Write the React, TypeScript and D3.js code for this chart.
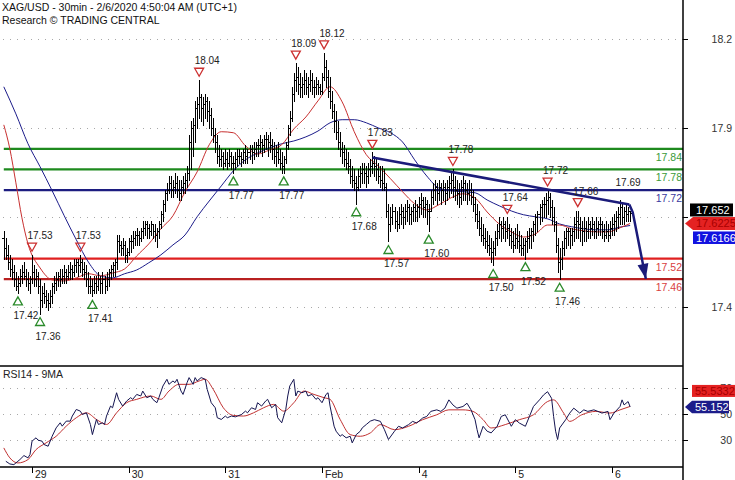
import * as d3 from 'd3';

const W = 735;
const H = 480;
const FONT = "'Liberation Sans', Arial, sans-serif";

// 30 min bars, [high, low, close]; open = previous close
const jan28 = [
  [17.6, 17.52, 17.55], [17.58, 17.52, 17.53], [17.56, 17.49, 17.51], [17.53, 17.47, 17.49],
  [17.52, 17.46, 17.48], [17.5, 17.44, 17.46], [17.48, 17.43, 17.44], [17.47, 17.42, 17.45],
  [17.49, 17.44, 17.47], [17.5, 17.45, 17.48], [17.51, 17.46, 17.47], [17.49, 17.44, 17.46],
  [17.48, 17.43, 17.45], [17.47, 17.42, 17.46],
];
const jan29 = [
  [17.53, 17.45, 17.48], [17.5, 17.44, 17.46], [17.49, 17.44, 17.47], [17.48, 17.42, 17.44],
  [17.46, 17.36, 17.4], [17.44, 17.38, 17.42], [17.45, 17.39, 17.41], [17.43, 17.38, 17.4],
  [17.42, 17.37, 17.39], [17.43, 17.38, 17.41], [17.45, 17.39, 17.44], [17.47, 17.42, 17.45],
  [17.48, 17.43, 17.46], [17.48, 17.44, 17.47], [17.49, 17.44, 17.46], [17.49, 17.45, 17.47],
  [17.5, 17.45, 17.48], [17.49, 17.45, 17.47], [17.5, 17.46, 17.48], [17.51, 17.46, 17.49],
  [17.5, 17.46, 17.48], [17.52, 17.47, 17.5], [17.52, 17.48, 17.51], [17.52, 17.47, 17.5],
  [17.53, 17.48, 17.51], [17.52, 17.47, 17.49], [17.51, 17.46, 17.48], [17.5, 17.44, 17.46],
  [17.48, 17.42, 17.44], [17.47, 17.42, 17.44], [17.46, 17.41, 17.43], [17.47, 17.42, 17.45],
  [17.47, 17.42, 17.44], [17.48, 17.43, 17.46], [17.47, 17.42, 17.45], [17.48, 17.42, 17.46],
  [17.47, 17.42, 17.44], [17.48, 17.43, 17.46], [17.49, 17.44, 17.48], [17.5, 17.46, 17.49],
  [17.51, 17.47, 17.5], [17.52, 17.47, 17.51], [17.59, 17.49, 17.57], [17.59, 17.54, 17.56],
  [17.57, 17.53, 17.55], [17.58, 17.53, 17.56], [17.57, 17.51, 17.53], [17.55, 17.51, 17.54],
];
const jan30 = [
  [17.58, 17.53, 17.57], [17.59, 17.54, 17.57], [17.6, 17.55, 17.58], [17.6, 17.56, 17.59],
  [17.61, 17.56, 17.59], [17.6, 17.56, 17.58], [17.61, 17.57, 17.6], [17.63, 17.58, 17.61],
  [17.63, 17.59, 17.62], [17.63, 17.58, 17.61], [17.62, 17.58, 17.6], [17.63, 17.59, 17.62],
  [17.62, 17.58, 17.6], [17.62, 17.57, 17.59], [17.61, 17.555, 17.6], [17.63, 17.58, 17.62],
  [17.66, 17.61, 17.65], [17.69, 17.63, 17.68], [17.72, 17.66, 17.71], [17.74, 17.69, 17.72],
  [17.76, 17.71, 17.74], [17.76, 17.7, 17.72], [17.75, 17.7, 17.73], [17.77, 17.71, 17.74],
  [17.76, 17.7, 17.72], [17.75, 17.69, 17.71], [17.75, 17.69, 17.73], [17.76, 17.71, 17.74],
  [17.77, 17.71, 17.75], [17.79, 17.73, 17.77], [17.88, 17.75, 17.86], [17.92, 17.78, 17.9],
  [17.93, 17.82, 17.91], [17.98, 17.86, 17.96], [17.99, 17.9, 17.97], [18.04, 17.93, 17.99],
  [18.0, 17.92, 17.96], [17.99, 17.91, 17.97], [18.0, 17.93, 17.98], [17.99, 17.92, 17.95],
  [17.98, 17.9, 17.94], [17.96, 17.88, 17.9], [17.93, 17.86, 17.88], [17.9, 17.83, 17.86],
  [17.88, 17.8, 17.82], [17.85, 17.79, 17.81], [17.84, 17.79, 17.82], [17.83, 17.78, 17.8],
];
const jan31 = [
  [17.84, 17.79, 17.81], [17.83, 17.78, 17.8], [17.84, 17.79, 17.82], [17.83, 17.78, 17.8],
  [17.82, 17.77, 17.8], [17.83, 17.78, 17.81], [17.84, 17.79, 17.82], [17.84, 17.8, 17.82],
  [17.83, 17.79, 17.81], [17.84, 17.8, 17.83], [17.85, 17.8, 17.82], [17.84, 17.8, 17.83],
  [17.85, 17.81, 17.84], [17.85, 17.8, 17.83], [17.86, 17.81, 17.84], [17.86, 17.82, 17.85],
  [17.87, 17.82, 17.85], [17.88, 17.83, 17.86], [17.87, 17.82, 17.85], [17.88, 17.83, 17.87],
  [17.89, 17.84, 17.87], [17.88, 17.82, 17.86], [17.89, 17.83, 17.85], [17.87, 17.81, 17.84],
  [17.86, 17.8, 17.82], [17.85, 17.79, 17.83], [17.86, 17.8, 17.81], [17.84, 17.78, 17.8],
  [17.83, 17.77, 17.79], [17.82, 17.77, 17.81], [17.86, 17.8, 17.85], [17.91, 17.84, 17.9],
  [17.95, 17.88, 17.93], [18.02, 17.92, 18.0], [18.06, 17.98, 18.04], [18.09, 18.01, 18.05],
  [18.08, 18.0, 18.03], [18.06, 17.99, 18.02], [18.05, 17.99, 18.03], [18.07, 18.0, 18.04],
  [18.06, 18.0, 18.02], [18.05, 17.99, 18.03], [18.07, 18.01, 18.04], [18.06, 18.0, 18.02],
  [18.04, 17.99, 18.02], [18.05, 18.0, 18.03], [18.04, 18.0, 18.02], [18.03, 18.0, 18.01],
];
const feb3 = [
  [18.06, 18.0, 18.05], [18.12, 18.04, 18.08], [18.1, 18.02, 18.05], [18.07, 17.99, 18.01],
  [18.05, 17.96, 17.98], [18.01, 17.93, 17.95], [17.97, 17.89, 17.92], [17.95, 17.87, 17.89],
  [17.92, 17.84, 17.86], [17.89, 17.82, 17.84], [17.86, 17.8, 17.83], [17.85, 17.79, 17.81],
  [17.84, 17.78, 17.8], [17.83, 17.77, 17.79], [17.81, 17.74, 17.76], [17.79, 17.73, 17.75],
  [17.78, 17.72, 17.74], [17.76, 17.68, 17.73], [17.78, 17.72, 17.76], [17.79, 17.73, 17.77],
  [17.8, 17.74, 17.78], [17.8, 17.74, 17.77], [17.79, 17.73, 17.76], [17.8, 17.74, 17.78],
  [17.81, 17.76, 17.79], [17.83, 17.77, 17.8], [17.82, 17.76, 17.79], [17.81, 17.75, 17.78],
  [17.8, 17.74, 17.76], [17.79, 17.73, 17.75], [17.79, 17.72, 17.74], [17.78, 17.72, 17.73],
  [17.74, 17.64, 17.66], [17.68, 17.57, 17.62], [17.67, 17.6, 17.64], [17.68, 17.62, 17.66],
  [17.67, 17.61, 17.63], [17.66, 17.6, 17.62], [17.67, 17.61, 17.65], [17.68, 17.62, 17.66],
  [17.67, 17.61, 17.64], [17.68, 17.62, 17.66], [17.69, 17.63, 17.67], [17.68, 17.62, 17.65],
  [17.67, 17.62, 17.66], [17.68, 17.63, 17.67], [17.69, 17.63, 17.66], [17.68, 17.63, 17.67],
];
const feb4 = [
  [17.7, 17.64, 17.68], [17.71, 17.65, 17.69], [17.7, 17.64, 17.67], [17.7, 17.64, 17.68],
  [17.69, 17.62, 17.66], [17.68, 17.6, 17.66], [17.72, 17.66, 17.7], [17.74, 17.68, 17.72],
  [17.75, 17.69, 17.73], [17.74, 17.68, 17.71], [17.75, 17.69, 17.73], [17.74, 17.68, 17.72],
  [17.75, 17.69, 17.73], [17.74, 17.68, 17.71], [17.75, 17.69, 17.73], [17.76, 17.7, 17.74],
  [17.77, 17.71, 17.75], [17.78, 17.7, 17.73], [17.76, 17.69, 17.72], [17.75, 17.68, 17.71],
  [17.74, 17.67, 17.7], [17.75, 17.68, 17.73], [17.76, 17.69, 17.74], [17.75, 17.69, 17.72],
  [17.74, 17.68, 17.71], [17.75, 17.69, 17.72], [17.74, 17.68, 17.7], [17.72, 17.66, 17.68],
  [17.7, 17.63, 17.65], [17.68, 17.61, 17.63], [17.66, 17.59, 17.61], [17.64, 17.57, 17.59],
  [17.62, 17.56, 17.58], [17.61, 17.55, 17.57], [17.6, 17.54, 17.56], [17.59, 17.53, 17.55],
  [17.58, 17.51, 17.54], [17.57, 17.5, 17.55], [17.6, 17.53, 17.58], [17.62, 17.56, 17.6],
  [17.64, 17.58, 17.62], [17.63, 17.57, 17.61], [17.64, 17.58, 17.62], [17.63, 17.57, 17.6],
  [17.64, 17.58, 17.61], [17.62, 17.56, 17.59], [17.61, 17.55, 17.57], [17.6, 17.54, 17.56],
];
const feb5 = [
  [17.61, 17.55, 17.58], [17.62, 17.55, 17.57], [17.6, 17.54, 17.56], [17.59, 17.53, 17.55],
  [17.58, 17.53, 17.56], [17.58, 17.52, 17.57], [17.6, 17.54, 17.58], [17.61, 17.55, 17.59],
  [17.61, 17.55, 17.6], [17.63, 17.57, 17.62], [17.65, 17.59, 17.64], [17.66, 17.6, 17.65],
  [17.68, 17.62, 17.67], [17.69, 17.63, 17.68], [17.7, 17.64, 17.68], [17.71, 17.64, 17.69],
  [17.72, 17.65, 17.7], [17.71, 17.64, 17.67], [17.69, 17.62, 17.64], [17.67, 17.6, 17.62],
  [17.63, 17.54, 17.56], [17.58, 17.48, 17.51], [17.55, 17.46, 17.52], [17.57, 17.49, 17.55],
  [17.6, 17.53, 17.58], [17.61, 17.55, 17.6], [17.61, 17.56, 17.6], [17.61, 17.55, 17.59],
  [17.61, 17.56, 17.6], [17.64, 17.57, 17.62], [17.66, 17.58, 17.63], [17.66, 17.58, 17.62],
  [17.64, 17.57, 17.61], [17.63, 17.56, 17.6], [17.64, 17.57, 17.61], [17.63, 17.57, 17.6],
  [17.64, 17.58, 17.62], [17.63, 17.58, 17.61], [17.64, 17.59, 17.62], [17.63, 17.58, 17.6],
  [17.64, 17.58, 17.61], [17.63, 17.59, 17.62], [17.64, 17.59, 17.62], [17.63, 17.58, 17.6],
  [17.62, 17.57, 17.59], [17.63, 17.58, 17.6], [17.62, 17.57, 17.59], [17.63, 17.58, 17.61],
];
const feb6 = [
  [17.64, 17.59, 17.62], [17.65, 17.59, 17.63], [17.66, 17.6, 17.64], [17.67, 17.61, 17.65],
  [17.69, 17.62, 17.67], [17.68, 17.62, 17.64], [17.67, 17.62, 17.66], [17.68, 17.63, 17.65],
  [17.67, 17.63, 17.66], [17.66, 17.63, 17.652],
];
const firstOpen = 17.58;

// moving averages on price: [bar index, value]
const redMA: [number, number][] = [
  [0, 17.91], [3, 17.84], [6, 17.741], [9, 17.639], [12, 17.563], [18, 17.493], [24, 17.458],
  [30, 17.455], [36, 17.464], [42, 17.476], [48, 17.47], [54, 17.478], [60, 17.49], [66, 17.528],
  [72, 17.563], [78, 17.607], [84, 17.645], [90, 17.715], [96, 17.773], [102, 17.852], [108, 17.89],
  [114, 17.887], [120, 17.849], [126, 17.825], [132, 17.837], [138, 17.852], [144, 17.898],
  [150, 17.933], [156, 17.98], [162, 18.021], [168, 17.977], [174, 17.89], [180, 17.823],
  [186, 17.79], [192, 17.753], [198, 17.715], [204, 17.68], [210, 17.662], [216, 17.677],
  [222, 17.697], [228, 17.709], [234, 17.697], [240, 17.656], [246, 17.621], [252, 17.598],
  [258, 17.583], [264, 17.592], [270, 17.618], [276, 17.618], [282, 17.607], [288, 17.601],
  [294, 17.598], [300, 17.598], [306, 17.61], [311, 17.6225],
];
const blueMA: [number, number][] = [
  [0, 18.021], [6, 17.942], [12, 17.855], [18, 17.788], [24, 17.718], [30, 17.645], [36, 17.575],
  [42, 17.51], [48, 17.47], [54, 17.464], [60, 17.476], [66, 17.487], [72, 17.508], [78, 17.531],
  [84, 17.56], [90, 17.589], [96, 17.642], [102, 17.688], [108, 17.732], [114, 17.776],
  [120, 17.808], [126, 17.828], [132, 17.843], [138, 17.855], [144, 17.863], [150, 17.875],
  [156, 17.892], [162, 17.916], [168, 17.925], [174, 17.925], [180, 17.916], [186, 17.901],
  [192, 17.887], [198, 17.86], [204, 17.808], [210, 17.761], [216, 17.726], [222, 17.718],
  [228, 17.715], [234, 17.712], [240, 17.691], [246, 17.674], [252, 17.659], [258, 17.648],
  [264, 17.642], [270, 17.636], [276, 17.621], [282, 17.613], [288, 17.607], [294, 17.604],
  [300, 17.604], [306, 17.612], [311, 17.6166],
];

// RSI(14) and its 9 period MA: [bar index, value]
const rsi: [number, number][] = [
  [1, 13.2], [3, 11.1], [5, 10.6], [7, 13.2], [8, 14.5], [10, 17.6], [12, 15.8], [13, 18.4],
  [14, 28.7], [16, 31.3], [17, 29.5], [19, 28.7], [20, 26.1], [22, 24.8], [24, 32.5], [26, 39],
  [28, 42.9], [29, 40.3], [31, 44.2], [33, 44.2], [34, 48.1], [36, 53.2], [38, 51.9], [39, 49.3],
  [41, 50.6], [43, 41.6], [44, 33.8], [46, 45.5], [47, 41.6], [49, 42.9], [50, 41.6], [51, 48.1],
  [53, 55.8], [54, 54.5], [56, 66.1], [57, 61], [59, 55.8], [61, 59.7], [63, 62.3], [64, 61],
  [66, 64.8], [68, 63.6], [69, 67.4], [71, 62.3], [73, 63.6], [74, 61], [76, 58.4], [77, 62.3],
  [79, 71.3], [81, 76.5], [82, 72.6], [84, 75.2], [85, 73.9], [86, 76.5], [88, 67.4], [89, 64.8],
  [91, 73.9], [92, 77.8], [94, 72.6], [95, 77.8], [96, 75.2], [98, 77.8], [100, 76.5], [101, 68.7],
  [103, 58.4], [105, 54.5], [106, 46.8], [108, 45.5], [110, 48.1], [111, 46.8], [113, 48.1],
  [115, 47.5], [116, 48.1], [118, 49.3], [120, 51.9], [121, 50.6], [123, 54.5], [125, 53.2],
  [126, 58.4], [128, 55.8], [130, 59.7], [131, 61], [133, 54.5], [135, 57.1], [136, 46.8],
  [138, 42.9], [140, 53.2], [141, 63.6], [142, 71.3], [144, 76.5], [145, 63.6], [146, 67.4],
  [148, 66.1], [150, 67.4], [151, 63.6], [153, 64.8], [155, 61], [156, 62.3], [158, 58.4],
  [160, 64.8], [161, 66.1], [162, 55.8], [164, 40.3], [165, 36.4], [167, 32.5], [168, 33.8],
  [170, 31.3], [172, 32.5], [173, 27.4], [175, 33.8], [177, 36.4], [178, 39], [180, 41.6],
  [182, 44.2], [184, 45.3], [187, 44], [189, 37.6], [191, 30], [194, 36.4], [196, 40.2],
  [198, 38.9], [201, 41.5], [203, 44], [205, 42.7], [208, 46.6], [210, 47.8], [212, 51.7],
  [215, 52.9], [217, 51.7], [219, 54.2], [221, 60.6], [223, 56.7], [225, 54.2], [228, 55.5],
  [230, 58], [232, 52.9], [234, 45.3], [235, 37.6], [236, 31.3], [238, 40.2], [240, 36.4],
  [242, 35.1], [245, 40.2], [247, 47.8], [249, 49.1], [252, 40.2], [254, 45.3], [256, 42.7],
  [259, 40.2], [261, 47.8], [263, 55.5], [266, 60.6], [268, 64.4], [270, 66.9], [272, 61.8],
  [273, 47.8], [274, 36.4], [275, 30], [276, 38.9], [279, 45.3], [281, 50.4], [283, 54.2],
  [286, 50.4], [288, 52.9], [290, 51.7], [293, 52.9], [295, 51.7], [297, 50.4], [300, 51.7],
  [301, 45.3], [303, 50.4], [306, 55.5], [307, 60.6], [308, 56.7], [310, 59.3], [311, 55.152],
];
const rsiMA: [number, number][] = [
  [0, 23.5], [3, 15.8], [7, 11.9], [12, 14.5], [16, 22.2], [21, 27.4], [26, 32.5], [31, 40.3],
  [36, 46.8], [41, 50.6], [46, 45.5], [51, 41.6], [56, 50.6], [61, 58.4], [66, 61], [73, 63.6],
  [78, 61], [82, 67.4], [87, 72.6], [92, 72.6], [97, 75.2], [100, 76.5], [104, 68.7], [109, 54.5],
  [114, 48.6], [119, 48.1], [124, 50.6], [129, 54.5], [134, 57.1], [139, 51.9], [144, 58.4],
  [149, 67.4], [154, 64.8], [159, 62.3], [162, 61], [167, 45.5], [172, 33.8], [177, 32.5],
  [182, 35.1], [187, 41.5], [194, 37.6], [201, 40.2], [208, 45.3], [215, 49.1], [221, 52.9],
  [228, 52.9], [233, 51.7], [238, 45.3], [242, 38.9], [249, 41.5], [256, 45.3], [263, 49.1],
  [270, 59.3], [273, 60.6], [278, 50.4], [281, 44], [287, 49.1], [294, 51.7], [301, 50.4],
  [306, 52.9], [311, 55.5332],
];

// support / resistance
const resistLevels = [17.84, 17.78];
const pivotLevel = 17.72;
const supportLevels = [17.52, 17.46];

// swing markers: [bar index, price]
const swingHighs: [number, number][] = [
  [14, 17.53], [38, 17.53], [97, 18.04], [145, 18.09], [159, 18.12], [183, 17.83],
  [223, 17.78], [250, 17.64], [270, 17.72], [285, 17.66],
];
const swingLows: [number, number][] = [
  [7, 17.42], [18, 17.36], [44, 17.41], [114, 17.77], [139, 17.77], [175, 17.68],
  [191, 17.57], [211, 17.6], [243, 17.5], [259, 17.52], [276, 17.46],
];
const lastHighNote: [number, number] = [306, 17.69];

// trend line and projected move
const trendLine: [number, number][] = [[183, 17.815], [310.6, 17.678]];
const projection: [number, number][] = [[310.6, 17.678], [312.3, 17.655], [318.8, 17.461]];

// axes
const priceTicks = [17.38, 17.64, 17.9, 18.16];
const rsiTicks = [30, 50, 70];
const dayTicks = [14, 62, 110, 158, 206, 254, 302];
const dayLabels = ['29', '30', '31', 'Feb', '4', '5', '6'];

const AXIS_X = 683;
const PRICE_BOTTOM = 366;
const RSI_BOTTOM = 467;

const fmt1 = d3.format('.1f');
const fmt2 = d3.format('.2f');

export default function App() {
  const bars = [...jan28, ...jan29, ...jan30, ...jan31, ...feb3, ...feb4, ...feb5, ...feb6].map(
    (b, i) => ({ i, h: b[0], l: b[1], c: b[2] })
  );

  const x = d3.scaleLinear().domain([14, 302]).range([32, 612]);
  const yP = d3.scaleLinear().domain([17.207, 18.274]).range([PRICE_BOTTOM, 0]);
  const yR = d3.scaleLinear().domain([30, 70]).range([439.5, 387.7]);

  const px = (v: number) => Math.round(v) + 0.5;

  let prev = firstOpen;
  const barPath = bars
    .map((b) => {
      const cx = px(x(b.i));
      const s =
        `M${cx},${Math.round(yP(b.h))}V${Math.round(yP(b.l)) + 1}` +
        `M${cx - 2.5},${px(yP(prev))}H${cx}M${cx},${px(yP(b.c))}H${cx + 2.5}`;
      prev = b.c;
      return s;
    })
    .join('');

  const priceLine = d3
    .line<[number, number]>()
    .x((d) => x(d[0]))
    .y((d) => yP(d[1]))
    .curve(d3.curveMonotoneX);
  const straight = d3
    .line<[number, number]>()
    .x((d) => x(d[0]))
    .y((d) => yP(d[1]));
  const rsiSmooth = d3
    .line<[number, number]>()
    .x((d) => x(d[0]))
    .y((d) => yR(d[1]))
    .curve(d3.curveMonotoneX);
  const rsiJagged = d3
    .line<[number, number]>()
    .x((d) => x(d[0]))
    .y((d) => yR(d[1]));

  // arrow head at the end of the projection
  const tip = projection[projection.length - 1];
  const before = projection[projection.length - 2];
  const tx = x(tip[0]);
  const ty = yP(tip[1]);
  const dx = tx - x(before[0]);
  const dy = ty - yP(before[1]);
  const len = Math.hypot(dx, dy);
  const ux = dx / len;
  const uy = dy / len;
  const bx = tx - ux * 15;
  const by = ty - uy * 15;
  const head = `${tx},${ty} ${bx - uy * 5.5},${by + ux * 5.5} ${bx + uy * 5.5},${by - ux * 5.5}`;

  const levels = [
    ...resistLevels.map((v) => ({ v, line: '#1e8a1e', text: '#3a9a3a' })),
    { v: pivotLevel, line: '#1c1c80', text: '#3a3aa0' },
    { v: supportLevels[0], line: '#e02020', text: '#d84040' },
    { v: supportLevels[1], line: '#b82020', text: '#d84040' },
  ];

  const lastClose = bars[bars.length - 1].c;
  const redLast = redMA[redMA.length - 1][1];
  const blueLast = blueMA[blueMA.length - 1][1];
  const redY = yP(redLast);
  const rsiLast = rsi[rsi.length - 1][1];
  const rsiMALast = rsiMA[rsiMA.length - 1][1];
  const rsiY = yR(rsiLast);

  // price axis labels that sit under the last-value tags are not shown
  const tagTop = redY - 20;
  const tagBottom = redY + 21;
  const visiblePriceTicks = priceTicks.filter((t) => yP(t) < tagTop || yP(t) > tagBottom);

  const x0 = x(0);

  return (
    <div style={{ position: 'absolute', left: 0, top: 0 }}>
      <svg width={W} height={H} style={{ display: 'block', background: '#fff' }} fontFamily={FONT}>
        <defs>
          <clipPath id="pricePane">
            <rect x={0} y={0} width={AXIS_X} height={PRICE_BOTTOM} />
          </clipPath>
          <clipPath id="rsiPane">
            <rect x={0} y={PRICE_BOTTOM + 1} width={AXIS_X} height={RSI_BOTTOM - PRICE_BOTTOM - 2} />
          </clipPath>
        </defs>

        {/* title */}
        <text x={2} y={11} fontSize={10.5} fill="#111">
          XAG/USD - 30min - 2/6/2020 4:50:04 AM (UTC+1)
        </text>
        <text x={2} y={23.5} fontSize={10.5} fill="#111">
          Research © TRADING CENTRAL
        </text>

        {/* price grid */}
        {priceTicks.map((t) => (
          <line key={t} x1={3} x2={AXIS_X} y1={px(yP(t))} y2={px(yP(t))} stroke="#a8a8a8" strokeDasharray="1 6" />
        ))}

        <g clipPath="url(#pricePane)">
          {/* levels */}
          {levels.map((l) => (
            <line key={l.v} x1={x0} x2={AXIS_X} y1={yP(l.v)} y2={yP(l.v)} stroke={l.line} strokeWidth={2.2} />
          ))}
          {levels.map((l) => (
            <text key={'t' + l.v} x={AXIS_X - 1} y={yP(l.v) + 12} fontSize={10.5} textAnchor="end" fill={l.text}>
              {fmt2(l.v)}
            </text>
          ))}

          {/* moving averages */}
          <path d={priceLine(blueMA) ?? ''} fill="none" stroke="#1c1c8a" strokeWidth={1} />
          <path d={priceLine(redMA) ?? ''} fill="none" stroke="#c83030" strokeWidth={1} />

          {/* bars */}
          <path d={barPath} fill="none" stroke="#000" strokeWidth={1} shapeRendering="crispEdges" />

          {/* trend line + projection */}
          <path d={straight(trendLine) ?? ''} fill="none" stroke="#1b1b7a" strokeWidth={2.5} />
          <path d={straight(projection) ?? ''} fill="none" stroke="#1b1b7a" strokeWidth={2.5} />
          <polygon points={head} fill="#1b1b7a" />

          {/* swing markers */}
          {swingHighs.map(([i, p]) => {
            const cx = x(i);
            const cy = yP(p) - 8;
            return (
              <g key={'h' + i}>
                <polygon
                  points={`${cx - 4.5},${cy - 4} ${cx + 4.5},${cy - 4} ${cx},${cy + 4}`}
                  fill="none"
                  stroke="#cc3030"
                  strokeWidth={1.3}
                />
                <text x={cx + 8} y={yP(p) - 16} fontSize={10} textAnchor="middle" fill="#222">
                  {fmt2(p)}
                </text>
              </g>
            );
          })}
          {swingLows.map(([i, p]) => {
            const cx = x(i);
            const cy = yP(p) + 8;
            return (
              <g key={'l' + i}>
                <polygon
                  points={`${cx - 4.5},${cy + 4} ${cx + 4.5},${cy + 4} ${cx},${cy - 4}`}
                  fill="none"
                  stroke="#2a8a2a"
                  strokeWidth={1.3}
                />
                <text x={cx + 8} y={yP(p) + 26} fontSize={10} textAnchor="middle" fill="#222">
                  {fmt2(p)}
                </text>
              </g>
            );
          })}
          <text x={x(lastHighNote[0]) + 8} y={yP(lastHighNote[1]) - 14} fontSize={10} textAnchor="middle" fill="#222">
            {fmt2(lastHighNote[1])}
          </text>
        </g>

        {/* RSI pane */}
        <text x={3} y={378} fontSize={10.5} fill="#222">
          RSI14 - 9MA
        </text>
        {rsiTicks.map((t) => (
          <line key={t} x1={3} x2={AXIS_X} y1={px(yR(t))} y2={px(yR(t))} stroke="#a8a8a8" strokeDasharray="1 6" />
        ))}
        <g clipPath="url(#rsiPane)">
          <path d={rsiSmooth(rsiMA) ?? ''} fill="none" stroke="#c03030" strokeWidth={1} />
          <path d={rsiJagged(rsi) ?? ''} fill="none" stroke="#141450" strokeWidth={1} />
        </g>

        {/* pane frames */}
        <line x1={0} x2={AXIS_X} y1={PRICE_BOTTOM} y2={PRICE_BOTTOM} stroke="#000" strokeWidth={1.5} />
        <line x1={0} x2={AXIS_X} y1={RSI_BOTTOM} y2={RSI_BOTTOM} stroke="#000" strokeWidth={1.5} />
        <line x1={AXIS_X} x2={AXIS_X} y1={0} y2={H} stroke="#000" strokeWidth={1.5} />

        {/* right axis */}
        {priceTicks.map((t) => (
          <line key={'pt' + t} x1={AXIS_X} x2={AXIS_X + 5} y1={px(yP(t))} y2={px(yP(t))} stroke="#000" />
        ))}
        {visiblePriceTicks.map((t) => (
          <text key={'pl' + t} x={732} y={yP(t) + 4} fontSize={10.5} textAnchor="end" fill="#333">
            {fmt1(t)}
          </text>
        ))}
        {rsiTicks.map((t) => (
          <g key={'rt' + t}>
            <line x1={AXIS_X} x2={AXIS_X + 5} y1={px(yR(t))} y2={px(yR(t))} stroke="#000" />
            <text x={732} y={yR(t) + 4} fontSize={10.5} textAnchor="end" fill="#333">
              {t}
            </text>
          </g>
        ))}

        {/* time axis */}
        {dayTicks.map((d, k) => (
          <g key={'d' + d}>
            <line x1={px(x(d))} x2={px(x(d))} y1={RSI_BOTTOM} y2={RSI_BOTTOM + 6} stroke="#000" />
            <text x={x(d) + 3} y={478} fontSize={10.5} fill="#222">
              {dayLabels[k]}
            </text>
          </g>
        ))}

        {/* last value tags */}
        <rect x={690} y={redY - 20} width={43} height={13} fill="#000" />
        <text x={696} y={redY - 9.5} fontSize={11} fill="#fff">
          {d3.format('.3f')(lastClose)}
        </text>
        <polygon
          points={`685,${redY} 693,${redY - 6.5} ${W},${redY - 6.5} ${W},${redY + 6.5} 693,${redY + 6.5}`}
          fill="#e42222"
        />
        <text x={696} y={redY + 4} fontSize={11} fill="#a80000">
          {d3.format('.4f')(redLast)}
        </text>
        <rect x={693} y={redY + 8} width={W - 693} height={12.5} fill="#1212e0" />
        <text x={696} y={redY + 18.5} fontSize={11} fill="#fff">
          {d3.format('.4f')(blueLast)}
        </text>

        <rect x={692} y={rsiY - 22} width={W - 692} height={12} fill="#e42222" />
        <text x={695} y={rsiY - 12} fontSize={11} fill="#a80000">
          {d3.format('.4f')(rsiMALast)}
        </text>
        <polygon
          points={`685,${rsiY} 692,${rsiY - 6.3} 729,${rsiY - 6.3} 729,${rsiY + 6.3} 692,${rsiY + 6.3}`}
          fill="#1c1c8a"
        />
        <text x={695} y={rsiY + 4} fontSize={11} fill="#fff">
          {d3.format('.3f')(rsiLast)}
        </text>
      </svg>
    </div>
  );
}
